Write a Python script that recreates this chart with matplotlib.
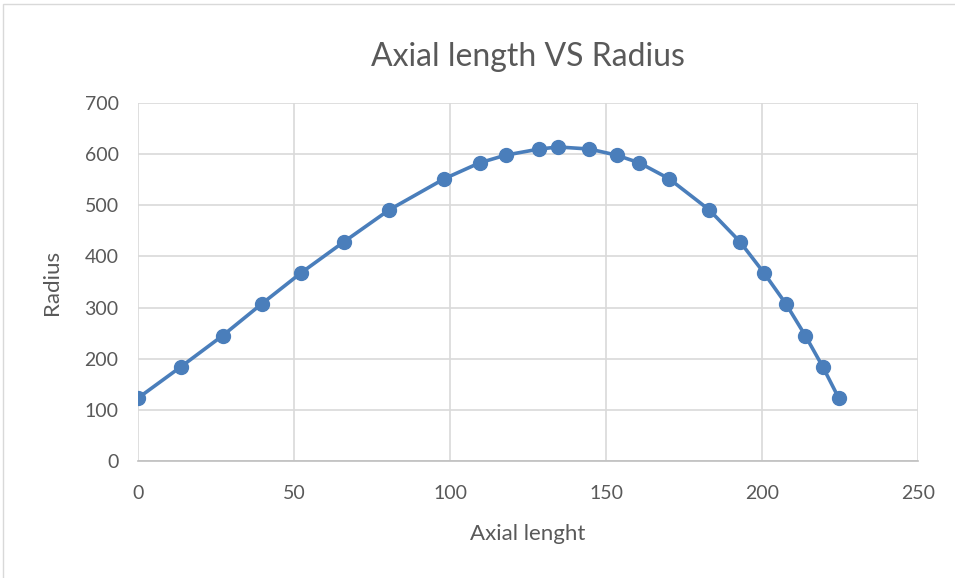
import matplotlib

matplotlib.use("Agg")
import matplotlib.pyplot as plt
from matplotlib.patches import Rectangle

# values
axial_length = [0, 13.7, 27.1, 39.6, 52.3, 66.1, 80.5, 98.2, 109.5, 117.8, 128.6, 134.7,
                144.7, 153.4, 160.7, 170.2, 183.1, 192.9, 200.6, 207.7, 213.9, 219.5, 224.6]
radius = [123, 184, 245, 307, 368, 429, 491, 552, 583, 598, 610, 614,
          610, 598, 583, 552, 491, 429, 368, 307, 245, 184, 123]
x_ticks = [0, 50, 100, 150, 200, 250]
y_ticks = [0, 100, 200, 300, 400, 500, 600, 700]

TEXT = "#595959"
GRID = "#d9d9d9"
BLUE = "#4a7ebb"

plt.rcParams["font.family"] = ["Lato", "DejaVu Sans"]

fig = plt.figure(figsize=(9.55, 5.78), dpi=100)
fig.patches.append(Rectangle((3 / 955, -0.1), 1.2, 1 - 4 / 578 + 0.1, transform=fig.transFigure,
                             fill=False, edgecolor=GRID, linewidth=1.0))
ax = fig.add_axes([138 / 955, 1 - 461 / 578, 780 / 955, 358 / 578])

ax.plot(axial_length, radius, color=BLUE, linewidth=2.6, marker="o", markersize=10,
        markerfacecolor=BLUE, markeredgecolor=BLUE, zorder=3)

ax.set_xlim(0, 250)
ax.set_ylim(0, 700)
ax.set_xticks(x_ticks)
ax.set_yticks(y_ticks)
ax.grid(True, color=GRID, linewidth=1.2)
ax.set_axisbelow(True)
for side in ("top", "right", "left"):
    ax.spines[side].set_visible(False)
ax.spines["bottom"].set_color("#bfbfbf")
ax.spines["bottom"].set_linewidth(1.2)
ax.tick_params(axis="x", length=0, labelsize=14, labelcolor=TEXT, pad=17)
ax.tick_params(axis="y", length=0, labelsize=14, labelcolor=TEXT, pad=14)

ax.set_title("Axial length VS Radius", fontsize=23, color=TEXT, pad=27)
ax.set_xlabel("Axial lenght", fontsize=16, color=TEXT, labelpad=16)
ax.set_ylabel("Radius", fontsize=16, color=TEXT, labelpad=16)

fig.savefig("out.png", dpi=100)
